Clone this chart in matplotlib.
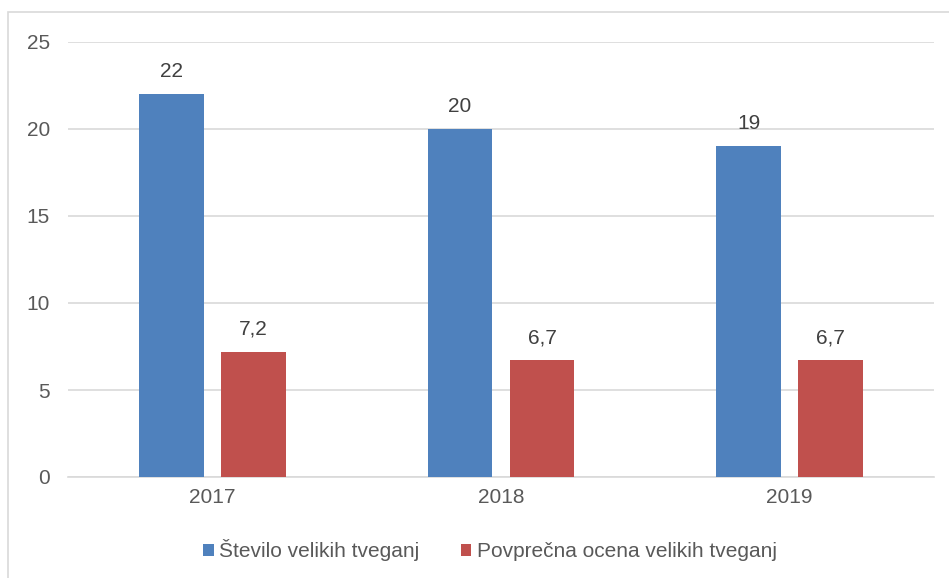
import matplotlib.pyplot as plt
import matplotlib.patches as mpatches
import numpy as np

plt.rcParams['font.family'] = ['Liberation Sans', 'DejaVu Sans']

years = ['2017', '2018', '2019']
stevilo = [22, 20, 19]
ocena = [7.2, 6.7, 6.7]
ocena_labels = ['7,2', '6,7', '6,7']
series_names = ['Število velikih tveganj', 'Povprečna ocena velikih tveganj']

blue = '#4F81BD'
red = '#C0504D'
txt = '#595959'
fs = 15

fig = plt.figure(figsize=(9.49, 5.78), dpi=100)
fig.patches.append(mpatches.Rectangle((8 / 949, -0.1), 1.2, 1 - 12 / 578 + 0.1,
                                      transform=fig.transFigure, fill=False,
                                      edgecolor='#D9D9D9', linewidth=1.2))
ax = fig.add_axes([68 / 949, 1 - 477 / 578, (934 - 68) / 949, (477 - 42) / 578])

x = np.arange(len(years))
w = 0.225
off = 0.142
b1 = ax.bar(x - off, stevilo, w, color=blue, label=series_names[0], zorder=3)
b2 = ax.bar(x + off, ocena, w, color=red, label=series_names[1], zorder=3)

for rect, v in zip(b1, stevilo):
    ax.text(rect.get_x() + rect.get_width() / 2, v + 0.75, str(v),
            ha='center', va='bottom', fontsize=fs, color='#404040')
for rect, v, lab in zip(b2, ocena, ocena_labels):
    ax.text(rect.get_x() + rect.get_width() / 2, v + 0.75, lab,
            ha='center', va='bottom', fontsize=fs, color='#404040')

ax.set_xlim(-0.5, 2.5)
ax.set_ylim(0, 25)
ax.set_yticks(range(0, 26, 5))
ax.set_xticks(x)
ax.set_xticklabels(years)
ax.yaxis.grid(True, color='#D9D9D9', linewidth=1.2, zorder=0)
for s in ['top', 'right', 'left']:
    ax.spines[s].set_visible(False)
ax.spines['bottom'].set_color('#D9D9D9')
ax.spines['bottom'].set_linewidth(1.2)
ax.tick_params(axis='both', length=0, labelsize=fs, colors=txt)
ax.tick_params(axis='y', pad=13)
ax.tick_params(axis='x', pad=8)

ax.legend(loc='center', bbox_to_anchor=(490 / 949, 1 - 550 / 578),
          bbox_transform=fig.transFigure, ncol=2, frameon=False,
          fontsize=fs, labelcolor=txt, handlelength=0.5, handleheight=0.5,
          handletextpad=0.25, columnspacing=2.0)

fig.savefig('out.png', dpi=100)
